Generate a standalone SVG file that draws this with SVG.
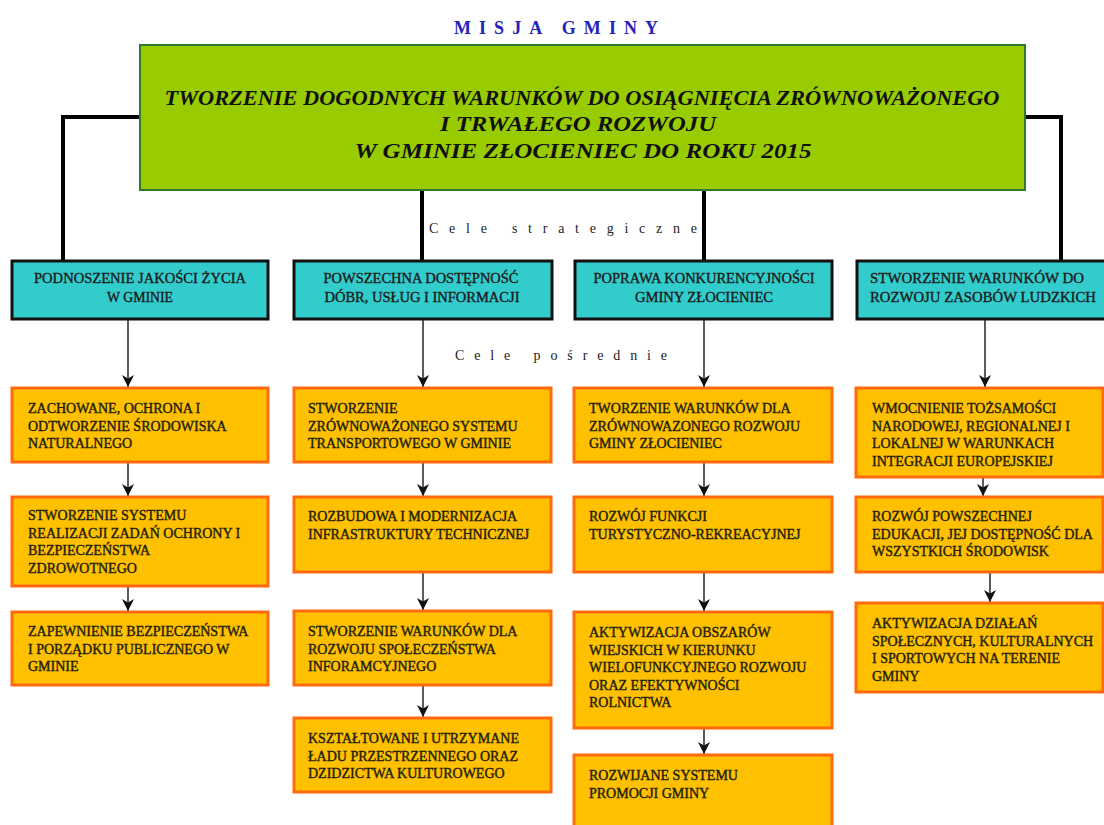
<svg xmlns="http://www.w3.org/2000/svg" width="1104" height="825" viewBox="0 0 1104 825">
<defs>
<style>
.bg{fill:#ffffff}
.green{fill:#99cc00;stroke:#2f7a2f;stroke-width:2}
.cyan{fill:#33cccc;stroke:#111;stroke-width:3}
.orange{fill:#ffc000;stroke:#ff6a10;stroke-width:3}
.thick{stroke:#000;stroke-width:4;fill:none}
.arr{stroke:#333;stroke-width:1.6;fill:none;marker-end:url(#ah)}
.t{font-family:"Liberation Serif","Times New Roman",serif;font-size:14px;fill:#1e1e0c;stroke:#1e1e0c;stroke-width:0.4}
.tc{font-family:"Liberation Serif","Times New Roman",serif;font-size:14px;fill:#1a1a1a;stroke:#1a1a1a;stroke-width:0.35;text-anchor:middle}
.tg{font-family:"Liberation Serif","Times New Roman",serif;font-size:20px;font-weight:bold;font-style:italic;fill:#111;text-anchor:middle}
.lab{font-family:"Liberation Serif","Times New Roman",serif;font-size:14px;fill:#222;text-anchor:middle}
.title{font-family:"Liberation Serif","Times New Roman",serif;font-size:18px;font-weight:bold;fill:#2424b8;text-anchor:middle}
</style>
<marker id="ah" viewBox="0 0 12 12" refX="12" refY="6" markerWidth="12" markerHeight="12" markerUnits="userSpaceOnUse" orient="auto">
<path d="M0,0 L12,6 L0,12 L3.5,6 z" fill="#111"/>
</marker>
</defs>
<rect class="bg" x="0" y="0" width="1104" height="825"/>

<text class="title" x="556" y="34" textLength="204" lengthAdjust="spacing">MISJA GMINY</text>

<g id="connectors">
<polyline class="thick" points="140,117 63,117 63,262"/>
<polyline class="thick" points="1025,117 1061,117 1061,262"/>
<line class="thick" x1="422" y1="190" x2="422" y2="262"/>
<line class="thick" x1="704" y1="190" x2="704" y2="262"/>
<line class="arr" x1="128" y1="320" x2="128" y2="387"/>
<line class="arr" x1="128" y1="463" x2="128" y2="496"/>
<line class="arr" x1="128" y1="587" x2="128" y2="611"/>
<line class="arr" x1="423" y1="320" x2="423" y2="387"/>
<line class="arr" x1="423" y1="463" x2="423" y2="496"/>
<line class="arr" x1="423" y1="573" x2="423" y2="610"/>
<line class="arr" x1="423" y1="686" x2="423" y2="717"/>
<line class="arr" x1="704" y1="320" x2="704" y2="387"/>
<line class="arr" x1="704" y1="463" x2="704" y2="496"/>
<line class="arr" x1="704" y1="573" x2="704" y2="611"/>
<line class="arr" x1="704" y1="729" x2="704" y2="754"/>
<line class="arr" x1="985" y1="320" x2="985" y2="387"/>
<line class="arr" x1="983" y1="478" x2="983" y2="496"/>
<line class="arr" x1="990" y1="573" x2="990" y2="602"/>
</g>

<g id="mission">
<rect class="green" x="140" y="45" width="885" height="145"/>
<text class="tg" x="582" y="105" textLength="835" lengthAdjust="spacingAndGlyphs">TWORZENIE  DOGODNYCH  WARUNKÓW DO OSIĄGNIĘCIA ZRÓWNOWAŻONEGO</text>
<text class="tg" x="578" y="131" textLength="276" lengthAdjust="spacingAndGlyphs">I  TRWAŁEGO  ROZWOJU</text>
<text class="tg" x="583" y="158" textLength="457" lengthAdjust="spacingAndGlyphs">W  GMINIE  ZŁOCIENIEC  DO  ROKU  2015</text>
</g>

<text class="lab" x="563" y="233" textLength="268" lengthAdjust="spacing">Cele  strategiczne</text>
<text class="lab" x="561" y="360" textLength="212" lengthAdjust="spacing">Cele  pośrednie</text>

<g id="s1">
<rect class="cyan" x="12" y="261" width="256" height="58"/>
<text class="tc" x="140" y="283" textLength="212" lengthAdjust="spacingAndGlyphs">PODNOSZENIE  JAKOŚCI  ŻYCIA</text>
<text class="tc" x="140" y="302" textLength="66" lengthAdjust="spacingAndGlyphs">W GMINIE</text>
</g>
<g id="s2">
<rect class="cyan" x="294" y="261" width="258" height="58"/>
<text class="tc" x="421" y="283" textLength="195" lengthAdjust="spacingAndGlyphs">POWSZECHNA  DOSTĘPNOŚĆ</text>
<text class="tc" x="422" y="302" textLength="195" lengthAdjust="spacingAndGlyphs">DÓBR, USŁUG I INFORMACJI</text>
</g>
<g id="s3">
<rect class="cyan" x="575" y="261" width="257" height="58"/>
<text class="tc" x="704" y="283" textLength="221" lengthAdjust="spacingAndGlyphs">POPRAWA KONKURENCYJNOŚCI</text>
<text class="tc" x="704" y="302" textLength="138" lengthAdjust="spacingAndGlyphs">GMINY  ZŁOCIENIEC</text>
</g>
<g id="s4">
<rect class="cyan" x="857" y="261" width="262" height="58"/>
<text class="tc" x="977" y="283" textLength="214" lengthAdjust="spacingAndGlyphs">STWORZENIE  WARUNKÓW  DO</text>
<text class="tc" x="983" y="302" textLength="226" lengthAdjust="spacingAndGlyphs">ROZWOJU  ZASOBÓW  LUDZKICH</text>
</g>

<g id="c1a">
<rect class="orange" x="12" y="388" width="256" height="74"/>
<text class="t" x="28" y="413">ZACHOWANE, OCHRONA I</text>
<text class="t" x="28" y="430.5">ODTWORZENIE ŚRODOWISKA</text>
<text class="t" x="28" y="448">NATURALNEGO</text>
</g>
<g id="c1b">
<rect class="orange" x="12" y="497" width="256" height="89"/>
<text class="t" x="28" y="520">STWORZENIE  SYSTEMU</text>
<text class="t" x="28" y="537.5">REALIZACJI ZADAŃ OCHRONY I</text>
<text class="t" x="28" y="555">BEZPIECZEŃSTWA</text>
<text class="t" x="28" y="572.5">ZDROWOTNEGO</text>
</g>
<g id="c1c">
<rect class="orange" x="12" y="612" width="256" height="73"/>
<text class="t" x="28" y="636">ZAPEWNIENIE BEZPIECZEŃSTWA</text>
<text class="t" x="28" y="653.5">I PORZĄDKU PUBLICZNEGO W</text>
<text class="t" x="28" y="671">GMINIE</text>
</g>

<g id="c2a">
<rect class="orange" x="294" y="388" width="257" height="74"/>
<text class="t" x="308" y="413">STWORZENIE</text>
<text class="t" x="308" y="430.5">ZRÓWNOWAŻONEGO SYSTEMU</text>
<text class="t" x="308" y="448">TRANSPORTOWEGO W GMINIE</text>
</g>
<g id="c2b">
<rect class="orange" x="294" y="497" width="257" height="75"/>
<text class="t" x="308" y="521">ROZBUDOWA I MODERNIZACJA</text>
<text class="t" x="308" y="538.5">INFRASTRUKTURY TECHNICZNEJ</text>
</g>
<g id="c2c">
<rect class="orange" x="294" y="611" width="257" height="74"/>
<text class="t" x="308" y="636">STWORZENIE WARUNKÓW DLA</text>
<text class="t" x="308" y="653.5">ROZWOJU SPOŁECZEŃSTWA</text>
<text class="t" x="308" y="671">INFORAMCYJNEGO</text>
</g>
<g id="c2d">
<rect class="orange" x="294" y="718" width="257" height="74"/>
<text class="t" x="308" y="743">KSZTAŁTOWANE I UTRZYMANE</text>
<text class="t" x="308" y="760.5">ŁADU PRZESTRZENNEGO ORAZ</text>
<text class="t" x="308" y="778">DZIDZICTWA KULTUROWEGO</text>
</g>

<g id="c3a">
<rect class="orange" x="574" y="388" width="258" height="74"/>
<text class="t" x="589" y="413">TWORZENIE WARUNKÓW DLA</text>
<text class="t" x="589" y="430.5">ZRÓWNOWAZONEGO ROZWOJU</text>
<text class="t" x="589" y="448">GMINY ZŁOCIENIEC</text>
</g>
<g id="c3b">
<rect class="orange" x="574" y="497" width="258" height="75"/>
<text class="t" x="589" y="521">ROZWÓJ FUNKCJI</text>
<text class="t" x="589" y="538.5">TURYSTYCZNO-REKREACYJNEJ</text>
</g>
<g id="c3c">
<rect class="orange" x="574" y="612" width="258" height="116"/>
<text class="t" x="589" y="637">AKTYWIZACJA OBSZARÓW</text>
<text class="t" x="589" y="654.5">WIEJSKICH W KIERUNKU</text>
<text class="t" x="589" y="672">WIELOFUNKCYJNEGO ROZWOJU</text>
<text class="t" x="589" y="689.5">ORAZ EFEKTYWNOŚCI</text>
<text class="t" x="589" y="707">ROLNICTWA</text>
</g>
<g id="c3d">
<rect class="orange" x="574" y="755" width="258" height="90"/>
<text class="t" x="589" y="780">ROZWIJANE SYSTEMU</text>
<text class="t" x="589" y="797.5">PROMOCJI GMINY</text>
</g>

<g id="c4a">
<rect class="orange" x="856" y="388" width="247" height="89"/>
<text class="t" x="872" y="413">WMOCNIENIE TOŻSAMOŚCI</text>
<text class="t" x="872" y="430.5">NARODOWEJ, REGIONALNEJ I</text>
<text class="t" x="872" y="448">LOKALNEJ W WARUNKACH</text>
<text class="t" x="872" y="465.5">INTEGRACJI EUROPEJSKIEJ</text>
</g>
<g id="c4b">
<rect class="orange" x="856" y="497" width="247" height="75"/>
<text class="t" x="872" y="521">ROZWÓJ POWSZECHNEJ</text>
<text class="t" x="872" y="538.5">EDUKACJI, JEJ DOSTĘPNOŚĆ DLA</text>
<text class="t" x="872" y="556">WSZYSTKICH ŚRODOWISK</text>
</g>
<g id="c4c">
<rect class="orange" x="856" y="603" width="247" height="89"/>
<text class="t" x="872" y="628">AKTYWIZACJA DZIAŁAŃ</text>
<text class="t" x="872" y="645.5">SPOŁECZNYCH, KULTURALNYCH</text>
<text class="t" x="872" y="663">I SPORTOWYCH NA TERENIE</text>
<text class="t" x="872" y="680.5">GMINY</text>
</g>
</svg>
